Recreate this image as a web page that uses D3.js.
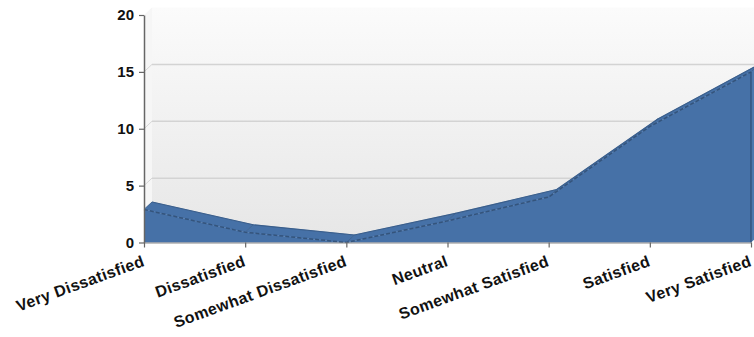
<!DOCTYPE html>
<html>
<head>
<meta charset="utf-8">
<script src="https://cdn.jsdelivr.net/npm/d3@7/dist/d3.min.js"></script>
<style>
  html, body { margin: 0; padding: 0; background: #fff; }
  svg { display: block; }
  .lbl { font-family: "Liberation Sans", Arial, sans-serif; font-weight: bold; fill: #111; }
</style>
</head>
<body>
<svg id="chart" width="754" height="337"></svg>
<script>
// Satisfaction survey responses
const categories = ["Very Dissatisfied", "Dissatisfied", "Somewhat Dissatisfied", "Neutral",
                    "Somewhat Satisfied", "Satisfied", "Very Satisfied"];
const values = [2.9, 0.9, 0, 1.9, 4, 10.2, 15];
const yTicks = [0, 5, 10, 15, 20];
const gridValues = [5, 10, 15];

const svg = d3.select("#chart");
const W = 754, H = 337;

const x = d3.scalePoint().domain(categories).range([144, 751]);
const y = d3.scaleLinear().domain([0, 20]).range([242.5, 15]);

// 3D depth offset of the back plane
const dx = 8, dy = -7.5;

const defs = svg.append("defs");
const wallGrad = defs.append("linearGradient").attr("id", "wallGrad")
  .attr("x1", 0).attr("y1", 0).attr("x2", 0).attr("y2", 1);
wallGrad.append("stop").attr("offset", "0%").attr("stop-color", "#fbfbfb");
wallGrad.append("stop").attr("offset", "100%").attr("stop-color", "#e7e7e7");

const clip = defs.append("clipPath").attr("id", "plotClip");
clip.append("rect").attr("x", 0).attr("y", 0).attr("width", W).attr("height", H);

const x0 = x.range()[0], x1 = x.range()[1];
const yTop = y(20), yBase = y(0);

const g = svg.append("g").attr("clip-path", "url(#plotClip)");

// back wall
g.append("rect")
  .attr("x", x0 + dx).attr("y", yTop + dy)
  .attr("width", x1 - x0 + 20).attr("height", yBase - yTop)
  .attr("fill", "url(#wallGrad)");

// left side wall
g.append("polygon")
  .attr("points", [[x0, yTop], [x0 + dx, yTop + dy], [x0 + dx, yBase + dy], [x0, yBase]].map(p => p.join(",")).join(" "))
  .attr("fill", "#f6f6f6");

// gridlines on back wall and side wall
gridValues.forEach(v => {
  g.append("line")
    .attr("x1", x0 + dx).attr("x2", x1 + dx + 10)
    .attr("y1", y(v) + dy).attr("y2", y(v) + dy)
    .attr("stroke", "#d3d3d3").attr("stroke-width", 1.5);
  g.append("line")
    .attr("x1", x0).attr("y1", y(v))
    .attr("x2", x0 + dx).attr("y2", y(v) + dy)
    .attr("stroke", "#d6d6d6").attr("stroke-width", 1);
});

const pts = categories.map((c, i) => [x(c), y(values[i])]);
const blue = "#4671a7";

// front face of the area
const area = d3.area().x(d => d[0]).y0(yBase).y1(d => d[1]);
g.append("path").datum(pts).attr("d", area).attr("fill", blue);

// top surface, one strip per segment
for (let i = 0; i < pts.length - 1; i++) {
  const a = pts[i], b = pts[i + 1];
  const poly = [a, b, [b[0] + dx, b[1] + dy], [a[0] + dx, a[1] + dy]];
  g.append("polygon")
    .attr("points", poly.map(p => p.join(",")).join(" "))
    .attr("fill", blue).attr("stroke", blue).attr("stroke-width", 0.5);
}

// right end face
const last = pts[pts.length - 1];
g.append("polygon")
  .attr("points", [[last[0], last[1]], [last[0] + dx, last[1] + dy], [last[0] + dx, yBase + dy], [last[0], yBase]].map(p => p.join(",")).join(" "))
  .attr("fill", "#4d79ae");

// back edge outline
const line = d3.line().x(d => d[0]).y(d => d[1]);
g.append("path")
  .datum(pts.map(p => [p[0] + dx, p[1] + dy]))
  .attr("d", line).attr("fill", "none")
  .attr("stroke", "#3a5e8b").attr("stroke-width", 1.2);

// short connectors between front and back edges
pts.forEach(p => {
  g.append("line")
    .attr("x1", p[0]).attr("y1", p[1]).attr("x2", p[0] + dx).attr("y2", p[1] + dy)
    .attr("stroke", "#3b5f8c").attr("stroke-width", 0.8);
});

// front edge, dashed
g.append("path").datum(pts).attr("d", line).attr("fill", "none")
  .attr("stroke", "#34547c").attr("stroke-width", 1.5)
  .attr("stroke-dasharray", "4,2");

// right front vertical edge
g.append("line")
  .attr("x1", last[0]).attr("x2", last[0])
  .attr("y1", last[1]).attr("y2", yBase)
  .attr("stroke", "#2f4d74").attr("stroke-width", 1.2);

// y axis
const yAxis = svg.append("g").attr("transform", `translate(${x0},0)`)
  .call(d3.axisLeft(y).tickValues(yTicks).tickSize(5).tickSizeOuter(0).tickPadding(5));
yAxis.select(".domain").attr("stroke", "#666").attr("stroke-width", 1.5);
yAxis.selectAll(".tick line").attr("stroke", "#666").attr("stroke-width", 1.2);
yAxis.selectAll(".tick text").attr("class", "lbl").style("font-size", "15px").attr("fill", "#111");

// x axis
const xAxis = svg.append("g").attr("transform", `translate(0,${yBase})`)
  .call(d3.axisBottom(x).tickSize(5).tickSizeOuter(0));
xAxis.select(".domain").attr("stroke", "#888").attr("stroke-width", 1.2);
xAxis.selectAll(".tick line").attr("stroke", "#666").attr("stroke-width", 1.2);
xAxis.selectAll(".tick text")
  .attr("class", "lbl").style("font-size", "16px").style("letter-spacing", "0.4px")
  .attr("fill", "#111")
  .attr("text-anchor", "end")
  .attr("x", 0).attr("y", 0).attr("dy", 0)
  .attr("transform", "translate(1,23) rotate(-20)");
</script>
</body>
</html>
